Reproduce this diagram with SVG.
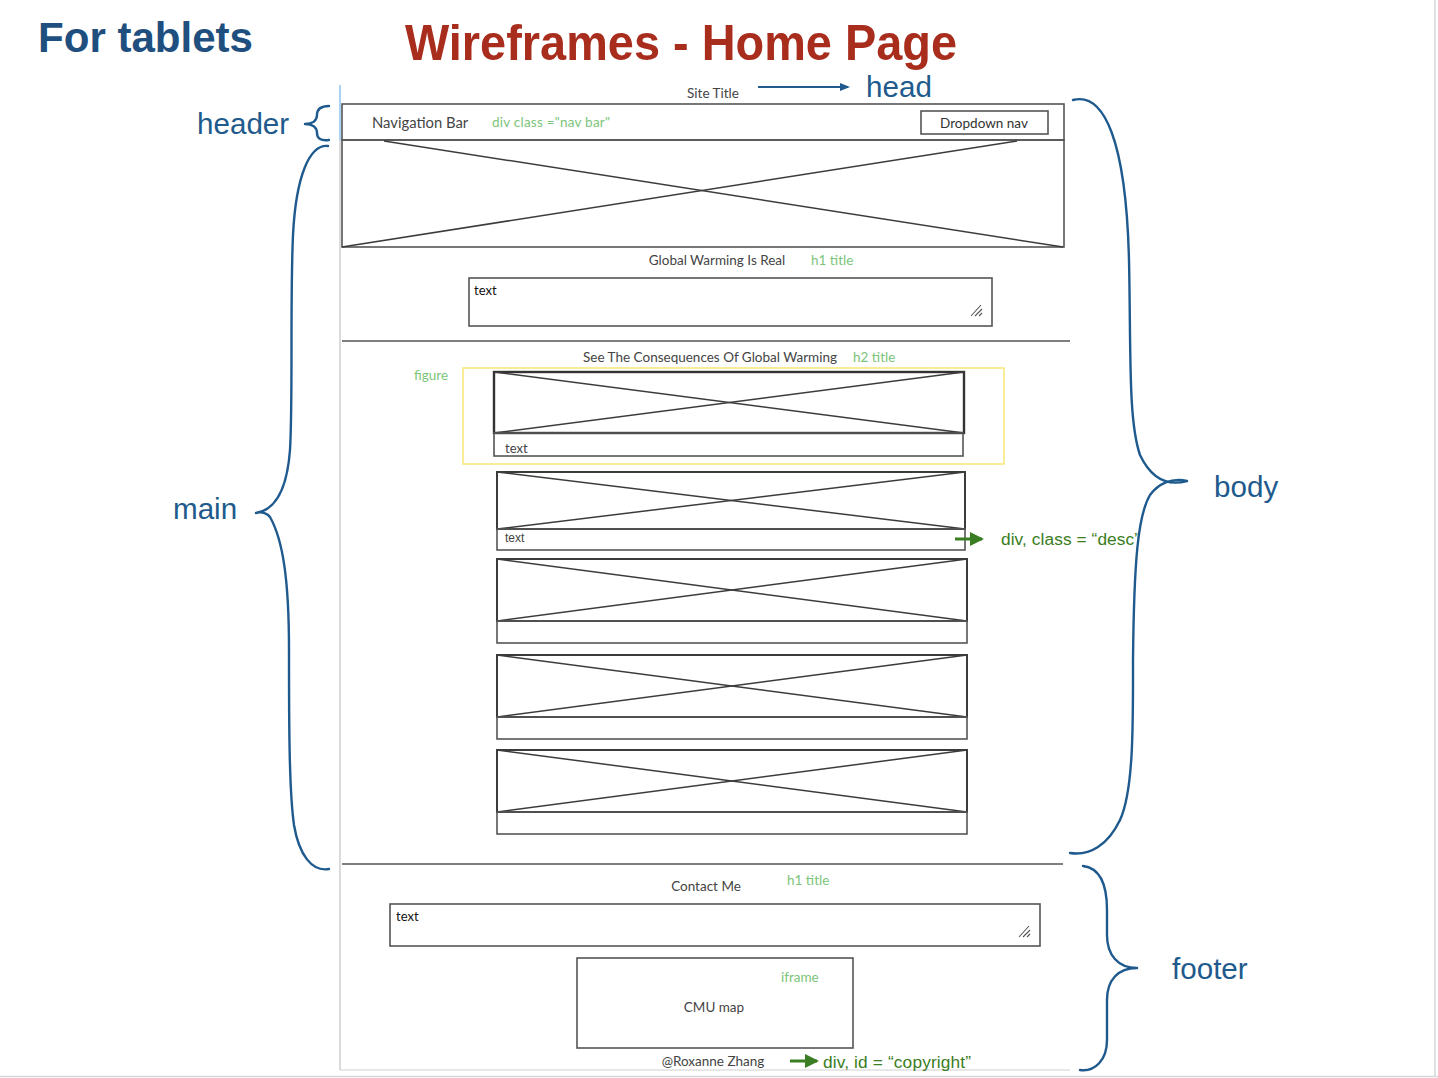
<svg xmlns="http://www.w3.org/2000/svg" width="1438" height="1078" viewBox="0 0 1438 1078">
  <style>
    .wf { font-family: Lato, "Open Sans", "Liberation Sans", sans-serif; font-size: 13.5px; fill: #444; }
    .tag { font-family: Lato, "Open Sans", "Liberation Sans", sans-serif; font-size: 13.5px; fill: #7cc47a; }
    .note { font-family: "Liberation Sans", Arial, sans-serif; font-size: 17.3px; fill: #3a7d22; }
    .lbl { font-family: "Liberation Sans", Arial, sans-serif; font-size: 29.6px; fill: #215a8c; }
    .box { fill: none; stroke: #555; stroke-width: 1.6; }
    .img { fill: none; stroke: #333; stroke-width: 1.9; }
    .x { stroke: #3c3c3c; stroke-width: 1.5; }
    .rule { stroke: #555; stroke-width: 1.6; }
    .brace { fill: none; stroke: #1f5a8e; stroke-width: 2.4; stroke-linecap: round; stroke-linejoin: round; }
  </style>
  <defs>
    <marker id="arrowBlue" markerWidth="10" markerHeight="10" refX="8" refY="5" orient="auto" markerUnits="userSpaceOnUse">
      <path d="M0,1 L10,5 L0,9 Z" fill="#215a8c"/>
    </marker>
    <marker id="arrowGreen" markerWidth="14" markerHeight="14" refX="12" refY="7" orient="auto" markerUnits="userSpaceOnUse">
      <path d="M0,0 L14,7 L0,14 Z" fill="#3a7d22"/>
    </marker>
  </defs>

  <rect x="0" y="0" width="1438" height="1078" fill="#ffffff"/>

  <!-- page frame -->
  <g id="frame">
    <line x1="1435" y1="0" x2="1435" y2="1076" stroke="#d6d6d6" stroke-width="1.5"/>
    <line x1="0" y1="1076.5" x2="1438" y2="1076.5" stroke="#d6d6d6" stroke-width="1.5"/>
    <line x1="340" y1="140" x2="340" y2="1070" stroke="#cfcfcf" stroke-width="1.5"/>
    <line x1="340" y1="85" x2="340" y2="140" stroke="#8fc3ee" stroke-width="1.5"/>
    <line x1="340" y1="1070" x2="1070" y2="1070" stroke="#d0d0d0" stroke-width="1.2"/>
  </g>

  <!-- titles -->
  <g id="titles">
    <text x="38" y="52" font-family="'Liberation Sans', Arial, sans-serif" font-size="43" font-weight="bold" fill="#1f4f7e" textLength="215" lengthAdjust="spacingAndGlyphs">For tablets</text>
    <text x="405" y="60" font-family="'Liberation Sans', Arial, sans-serif" font-size="50" font-weight="bold" fill="#a82d1d" textLength="552" lengthAdjust="spacingAndGlyphs">Wireframes - Home Page</text>
  </g>

  <!-- header: site title + navigation bar -->
  <g id="header">
    <text class="wf" x="713" y="98" text-anchor="middle">Site Title</text>
    <rect class="box" x="342" y="104" width="722" height="36"/>
    <text class="wf" x="372" y="128" style="font-size:14.8px">Navigation Bar</text>
    <text class="tag" x="492" y="127" textLength="118">div class ="nav bar"</text>
    <rect class="box" x="921" y="111" width="127" height="23"/>
    <text class="wf" x="984" y="128" text-anchor="middle" style="fill:#333">Dropdown nav</text>
  </g>

  <!-- hero image -->
  <g id="hero">
    <rect class="box" x="342" y="140" width="722" height="107"/>
    <line class="x" x1="384" y1="141" x2="1063" y2="247"/>
    <line class="x" x1="342" y1="247" x2="1017" y2="141"/>
  </g>

  <!-- intro section -->
  <g id="intro">
    <text class="wf" x="717" y="265" text-anchor="middle">Global Warming Is Real</text>
    <text class="tag" x="811" y="265">h1 title</text>
    <rect class="box" x="469" y="278" width="523" height="48"/>
    <text class="wf" x="474" y="295" style="fill:#111;font-size:13px">text</text>
    <path d="M971,316 L981,305 M975,316 L982,309 M979,316 L982,313" stroke="#555" stroke-width="1.1"/>
    <line class="rule" x1="342" y1="341" x2="1070" y2="341"/>
  </g>

  <!-- consequences heading -->
  <g id="consequences">
    <text class="wf" x="710" y="362" text-anchor="middle">See The Consequences Of Global Warming</text>
    <text class="tag" x="853" y="362">h2 title</text>
    <text class="tag" x="414" y="380">figure</text>
  </g>

  <!-- figure with caption -->
  <g id="figure1">
    <rect x="463" y="368" width="541" height="96" fill="none" stroke="#f6e874" stroke-width="1.5"/>
    <rect class="img" x="494" y="372" width="470" height="61" style="stroke-width:2.4"/>
    <line class="x" x1="494" y1="372" x2="964" y2="433"/>
    <line class="x" x1="494" y1="433" x2="964" y2="372"/>
    <rect class="box" x="494" y="433" width="469" height="23"/>
    <text class="wf" x="505" y="453" style="font-size:13px">text</text>
  </g>

  <g id="figure2">
    <rect class="img" x="497" y="472" width="468" height="57"/>
    <line class="x" x1="497" y1="472" x2="965" y2="529"/>
    <line class="x" x1="497" y1="529" x2="965" y2="472"/>
    <rect class="box" x="497" y="529" width="468" height="21"/>
    <text x="505" y="542" font-family="'Liberation Sans', Arial, sans-serif" font-size="12" fill="#444">text</text>
  </g>

  <g id="figure3">
    <rect class="img" x="497" y="559" width="470" height="62"/>
    <line class="x" x1="497" y1="559" x2="967" y2="621"/>
    <line class="x" x1="497" y1="621" x2="967" y2="559"/>
    <rect class="box" x="497" y="621" width="470" height="22"/>
  </g>

  <g id="figure4">
    <rect class="img" x="497" y="655" width="470" height="62"/>
    <line class="x" x1="497" y1="655" x2="967" y2="717"/>
    <line class="x" x1="497" y1="717" x2="967" y2="655"/>
    <rect class="box" x="497" y="717" width="470" height="22"/>
  </g>

  <g id="figure5">
    <rect class="img" x="497" y="750" width="470" height="62"/>
    <line class="x" x1="497" y1="750" x2="967" y2="812"/>
    <line class="x" x1="497" y1="812" x2="967" y2="750"/>
    <rect class="box" x="497" y="812" width="470" height="22"/>
  </g>

  <!-- footer section -->
  <g id="footer">
    <line class="rule" x1="342" y1="864" x2="1063" y2="864"/>
    <text class="wf" x="706" y="891" text-anchor="middle">Contact Me</text>
    <text class="tag" x="787" y="885">h1 title</text>
    <rect class="box" x="390" y="904" width="650" height="42"/>
    <text class="wf" x="396" y="921" style="fill:#111;font-size:13px">text</text>
    <path d="M1019,937 L1029,926 M1023,937 L1030,930 M1027,937 L1030,934" stroke="#555" stroke-width="1.1"/>
    <rect class="box" x="577" y="958" width="276" height="90"/>
    <text class="tag" x="781" y="982">iframe</text>
    <text class="wf" x="714" y="1012" text-anchor="middle">CMU map</text>
    <text class="wf" x="713" y="1066" text-anchor="middle">@Roxanne Zhang</text>
  </g>

  <!-- annotation connectors -->
  <g id="connectors">
    <line x1="758" y1="87" x2="848" y2="87" stroke="#215a8c" stroke-width="2" marker-end="url(#arrowBlue)"/>
    <line x1="955" y1="539" x2="982" y2="539" stroke="#3a7d22" stroke-width="3" marker-end="url(#arrowGreen)"/>
    <line x1="790" y1="1061" x2="817" y2="1061" stroke="#3a7d22" stroke-width="3" marker-end="url(#arrowGreen)"/>
  </g>

  <!-- annotation labels -->
  <g id="annotations">
    <text class="lbl" x="866" y="97">head</text>
    <text class="lbl" x="197" y="134">header</text>
    <text class="lbl" x="173" y="519">main</text>
    <text class="lbl" x="1214" y="497">body</text>
    <text class="lbl" x="1172" y="979">footer</text>
    <text class="note" x="1001" y="545" textLength="139">div, class = “desc”</text>
    <text class="note" x="823" y="1068" textLength="148">div, id = “copyright”</text>
  </g>

  <!-- braces -->
  <g id="braces">
    <path class="brace" d="M329,106 C320,106 317,110 317,115 C317,121 312,124 305,124 C312,124 317,127 317,133 C317,138 320,141 329,140"/>
    <path class="brace" d="M328,146 C310,144 296,175 293,235 C290,300 293,400 290,450 C287,490 275,510 256,513 C262,511 268,514 270,517 C283,540 289,580 289,650 C289,720 289,790 294,825 C299,855 312,872 329,869"/>
    <path class="brace" d="M1073,100 C1104,92 1126,140 1129,260 C1131,350 1128,420 1140,455 C1150,476 1165,487 1187,481 C1172,477 1158,484 1150,495 C1138,515 1134,560 1133,660 C1133,720 1134,790 1120,820 C1108,845 1090,856 1070,853"/>
    <path class="brace" d="M1083,866 C1100,868 1107,885 1107,910 L1107,935 C1107,955 1118,968 1137,968 C1118,968 1107,980 1107,1000 L1107,1040 C1107,1060 1095,1072 1080,1070"/>
  </g>
</svg>
